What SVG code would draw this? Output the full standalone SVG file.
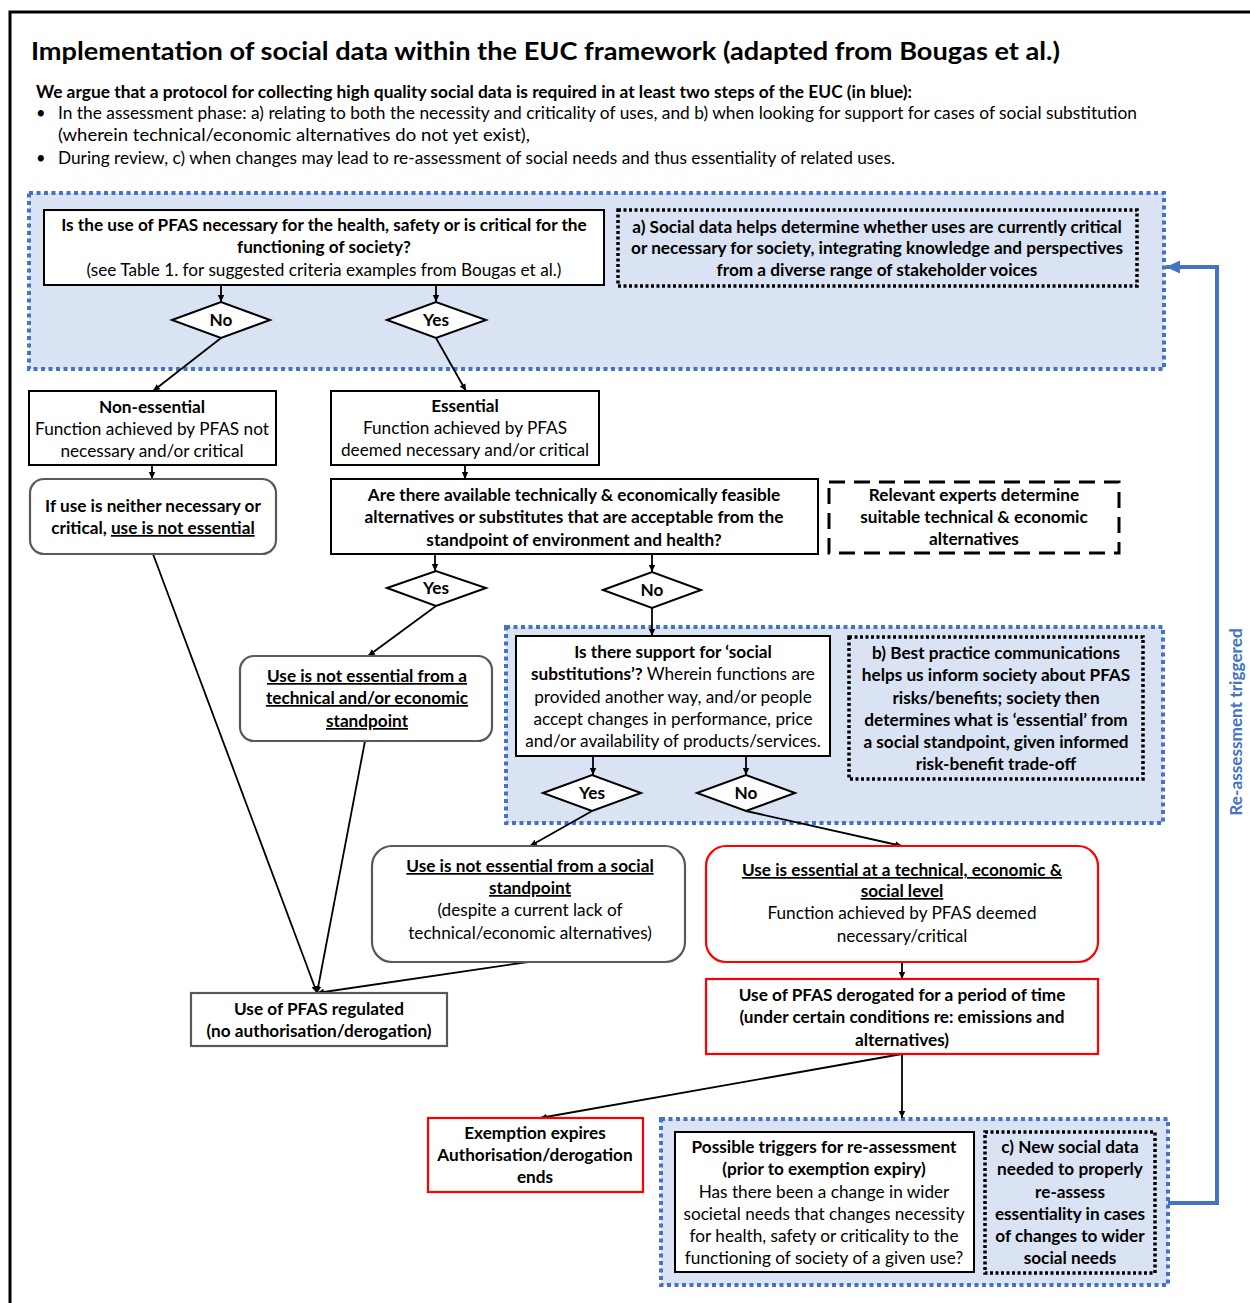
<svg xmlns="http://www.w3.org/2000/svg" width="1250" height="1303" viewBox="0 0 1250 1303">
<style>
text{font-family:Lato,"Liberation Sans",sans-serif;fill:#000}
.t{font-size:25px;font-weight:700}
.h{font-size:16.5px}
.b{font-size:17.2px;font-weight:700;text-anchor:middle}
.r{font-size:17.2px;font-weight:400;text-anchor:middle}
.u{text-decoration:underline}
.box{fill:#fff;stroke:#000;stroke-width:2}
.gbox{fill:#fff;stroke:#595959;stroke-width:2.2}
.red{fill:#fff;stroke:#ff0000;stroke-width:2.2}
.zone{fill:#dae3f3;stroke:#4472c4;stroke-width:4;stroke-dasharray:4 3.5}
.note{fill:none;stroke:#000;stroke-width:3.5;stroke-dasharray:3 2.5}
.dash{fill:none;stroke:#000;stroke-width:3;stroke-dasharray:16 9}
.dia{fill:#fff;stroke:#000;stroke-width:2}
.c{fill:none;stroke:#000;stroke-width:1.8;marker-end:url(#ah)}
</style>
<defs>
<marker id="ah" markerWidth="8" markerHeight="8" refX="7" refY="4" orient="auto" markerUnits="userSpaceOnUse">
<path d="M0,0.8 L7,4 L0,7.2 Z" fill="#000"/>
</marker>
<marker id="bh" markerWidth="16" markerHeight="16" refX="14" refY="8" orient="auto" markerUnits="userSpaceOnUse">
<path d="M0,1.5 L14,8 L0,14.5 Z" fill="#4472c4"/>
</marker>
</defs>
<rect width="1250" height="1303" fill="#fff"/>
<path d="M10,1303 V12 H1250" fill="none" stroke="#000" stroke-width="3"/>

<g id="header">
<text class="t" x="31" y="60" textLength="1029" lengthAdjust="spacingAndGlyphs">Implementation of social data within the EUC framework (adapted from Bougas et al.)</text>
<text class="h" x="36" y="98" font-weight="700" textLength="876" lengthAdjust="spacingAndGlyphs">We argue that a protocol for collecting high quality social data is required in at least two steps of the EUC (in blue):</text>
<text class="h" x="36" y="119">•</text>
<text class="h" x="58" y="119" textLength="1079" lengthAdjust="spacingAndGlyphs">In the assessment phase: a) relating to both the necessity and criticality of uses, and b) when looking for support for cases of social substitution</text>
<text class="h" x="58" y="141" textLength="472" lengthAdjust="spacingAndGlyphs">(wherein technical/economic alternatives do not yet exist),</text>
<text class="h" x="36" y="164">•</text>
<text class="h" x="58" y="164" textLength="837" lengthAdjust="spacingAndGlyphs">During review, c) when changes may lead to re-assessment of social needs and thus essentiality of related uses.</text>
</g>

<g id="zoneA"><rect class="zone" x="29" y="193" width="1135" height="176"/></g>
<g id="zoneB"><rect class="zone" x="506" y="627" width="657" height="196"/></g>
<g id="zoneC"><rect class="zone" x="661" y="1119" width="507" height="166"/></g>

<g id="connectors">
<path class="c" d="M221,285 V302"/>
<path class="c" d="M436,285 V302"/>
<path class="c" d="M221,338 L153,391"/>
<path class="c" d="M436,338 L466,391"/>
<path class="c" d="M152,465 V479"/>
<path class="c" d="M465,465 V479"/>
<path class="c" d="M435,554 V571"/>
<path class="c" d="M652,554 V572"/>
<path class="c" d="M436,606 L368,656"/>
<path class="c" d="M652,608 V636"/>
<path class="c" d="M593,756 V775"/>
<path class="c" d="M746,756 V775"/>
<path class="c" d="M592,811 L530,846"/>
<path class="c" d="M746,811 L902,846"/>
<path class="c" d="M902,962 V979"/>
<path class="c" d="M902,1054 L540,1118"/>
<path class="c" d="M902,1054 V1118"/>
<path class="c" d="M153,554 L317,993"/>
<path class="c" d="M365,741 L317,993"/>
<path class="c" d="M528,962 L317,993"/>
<path d="M1168,1203 H1217 V267 H1166" fill="none" stroke="#4472c4" stroke-width="4" marker-end="url(#bh)"/>
<text transform="translate(1242,722) rotate(-90)" text-anchor="middle" font-size="17.2" font-weight="700" style="fill:#4472c4">Re-assessment triggered</text>
</g>

<g id="q1">
<rect class="box" x="44" y="210" width="560" height="75"/>
<text class="b" x="324" y="231">Is the use of PFAS necessary for the health, safety or is critical for the</text>
<text class="b" x="324" y="253">functioning of society?</text>
<text class="r" x="324" y="276">(see Table 1. for suggested criteria examples from Bougas et al.)</text>
</g>
<g id="noteA">
<rect class="note" x="618" y="210" width="519" height="76"/>
<text class="b" x="877" y="233">a) Social data helps determine whether uses are currently critical</text>
<text class="b" x="877" y="254">or necessary for society, integrating knowledge and perspectives</text>
<text class="b" x="877" y="276">from a diverse range of stakeholder voices</text>
</g>
<g id="d1no"><path class="dia" d="M172,320 L221,302 L270,320 L221,338 Z"/><text class="b" x="221" y="326">No</text></g>
<g id="d1yes"><path class="dia" d="M387,320 L436,302 L486,320 L436,338 Z"/><text class="b" x="436" y="326">Yes</text></g>

<g id="nonessential">
<rect class="box" x="29" y="391" width="247" height="74"/>
<text class="b" x="152" y="413">Non-essential</text>
<text class="r" x="152" y="435">Function achieved by PFAS not</text>
<text class="r" x="152" y="457">necessary and/or critical</text>
</g>
<g id="essential">
<rect class="box" x="331" y="391" width="268" height="74"/>
<text class="b" x="465" y="412">Essential</text>
<text class="r" x="465" y="434">Function achieved by PFAS</text>
<text class="r" x="465" y="456">deemed necessary and/or critical</text>
</g>
<g id="notessential1">
<rect class="gbox" x="30" y="479" width="246" height="75" rx="14"/>
<text class="b" x="153" y="512">If use is neither necessary or</text>
<text class="b" x="153" y="534">critical, <tspan class="u">use is not essential</tspan></text>
</g>
<g id="q2">
<rect class="box" x="331" y="479" width="487" height="75"/>
<text class="b" x="574" y="501">Are there available technically &amp; economically feasible</text>
<text class="b" x="574" y="523">alternatives or substitutes that are acceptable from the</text>
<text class="b" x="574" y="546">standpoint of environment and health?</text>
</g>
<g id="experts">
<rect class="dash" x="829" y="482" width="290" height="71"/>
<text class="b" x="974" y="501">Relevant experts determine</text>
<text class="b" x="974" y="523">suitable technical &amp; economic</text>
<text class="b" x="974" y="545">alternatives</text>
</g>
<g id="d2yes"><path class="dia" d="M387,588 L436,571 L486,588 L436,606 Z"/><text class="b" x="436" y="594">Yes</text></g>
<g id="d2no"><path class="dia" d="M603,590 L652,572 L701,590 L652,608 Z"/><text class="b" x="652" y="596">No</text></g>

<g id="notessential2">
<rect class="gbox" x="240" y="656" width="252" height="85" rx="14"/>
<text class="b u" x="367" y="682">Use is not essential  from a</text>
<text class="b u" x="367" y="704">technical and/or economic</text>
<text class="b u" x="367" y="727">standpoint</text>
</g>
<g id="q3">
<rect class="box" x="516" y="636" width="314" height="120"/>
<text class="b" x="673" y="658">Is there support for ‘social</text>
<text class="r" x="673" y="680"><tspan font-weight="700">substitutions’?</tspan> Wherein functions are</text>
<text class="r" x="673" y="703">provided another way, and/or people</text>
<text class="r" x="673" y="725">accept changes in performance, price</text>
<text class="r" x="673" y="747">and/or availability of products/services.</text>
</g>
<g id="noteB">
<rect class="note" x="849" y="637" width="294" height="142"/>
<text class="b" x="996" y="659">b) Best practice communications</text>
<text class="b" x="996" y="681">helps us inform society about PFAS</text>
<text class="b" x="996" y="704">risks/benefits; society then</text>
<text class="b" x="996" y="726">determines what is ‘essential’ from</text>
<text class="b" x="996" y="748">a social standpoint, given informed</text>
<text class="b" x="996" y="770">risk-benefit trade-off</text>
</g>
<g id="d3yes"><path class="dia" d="M543,793 L592,775 L641,793 L592,811 Z"/><text class="b" x="592" y="799">Yes</text></g>
<g id="d3no"><path class="dia" d="M697,793 L746,775 L795,793 L746,811 Z"/><text class="b" x="746" y="799">No</text></g>

<g id="notessential3">
<rect class="gbox" x="372" y="846" width="313" height="116" rx="20"/>
<text class="b u" x="530" y="872">Use is not essential from a social</text>
<text class="b u" x="530" y="894">standpoint</text>
<text class="r" x="530" y="916">(despite a current lack of</text>
<text class="r" x="530" y="939">technical/economic alternatives)</text>
</g>
<g id="essentialall">
<rect class="red" x="706" y="846" width="392" height="116" rx="20"/>
<text class="b u" x="902" y="876">Use is essential at a technical, economic &amp;</text>
<text class="b u" x="902" y="897">social level</text>
<text class="r" x="902" y="919">Function achieved by PFAS deemed</text>
<text class="r" x="902" y="942">necessary/critical</text>
</g>
<g id="regulated">
<rect class="gbox" x="191" y="993" width="256" height="53"/>
<text class="b" x="319" y="1015">Use of PFAS regulated</text>
<text class="b" x="319" y="1037">(no authorisation/derogation)</text>
</g>
<g id="derogated">
<rect class="red" x="706" y="979" width="392" height="75"/>
<text class="b" x="902" y="1001">Use of PFAS derogated for a period of time</text>
<text class="b" x="902" y="1023">(under certain conditions re: emissions and</text>
<text class="b" x="902" y="1046">alternatives)</text>
</g>
<g id="exemption">
<rect class="red" x="428" y="1118" width="215" height="74"/>
<text class="b" x="535" y="1139">Exemption expires</text>
<text class="b" x="535" y="1161">Authorisation/derogation</text>
<text class="b" x="535" y="1183">ends</text>
</g>
<g id="triggers">
<rect class="box" x="675" y="1132" width="299" height="140"/>
<text class="b" x="824" y="1153">Possible triggers for re-assessment</text>
<text class="b" x="824" y="1175">(prior to exemption expiry)</text>
<text class="r" x="824" y="1198">Has there been a change in wider</text>
<text class="r" x="824" y="1220">societal needs that changes necessity</text>
<text class="r" x="824" y="1242">for health, safety or criticality to the</text>
<text class="r" x="824" y="1264">functioning of society of a given use?</text>
</g>
<g id="noteC">
<rect class="note" x="985" y="1132" width="170" height="141"/>
<text class="b" x="1070" y="1153">c) New social data</text>
<text class="b" x="1070" y="1175">needed to properly</text>
<text class="b" x="1070" y="1198">re-assess</text>
<text class="b" x="1070" y="1220">essentiality in cases</text>
<text class="b" x="1070" y="1242">of changes to wider</text>
<text class="b" x="1070" y="1264">social needs</text>
</g>
</svg>
